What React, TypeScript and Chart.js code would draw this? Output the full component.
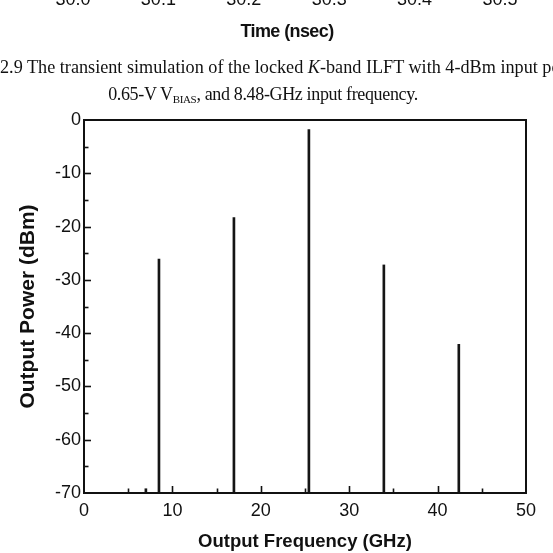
import React, { useEffect, useRef } from "react";
import { Chart, registerables } from "chart.js";

Chart.register(...registerables);

// Spectrum data
const frequenciesGHz = [7.0, 8.48, 16.96, 25.44, 33.92, 42.4];
const powersDBm = [-69.2, -26.1, -18.3, -1.8, -27.2, -42.1];
const floorDBm = -70;

// Axes
const xMin = 0;
const xMax = 50;
const xStep = 10;
const yMin = -70;
const yMax = 0;
const yStep = 10;

// Text of the page around the figure
const topTickLabels = ["30.0", "30.1", "30.2", "30.3", "30.4", "30.5"];
const topAxisTitle = "Time (nsec)";
const xTitle = "Output Frequency (GHz)";
const yTitle = "Output Power (dBm)";

const framePlugin = {
  id: "frameTicks",
  afterDatasetsDraw(chart: any) {
    const { ctx, chartArea: a, scales } = chart;
    const xs = scales.x;
    const ys = scales.y;
    ctx.save();
    ctx.strokeStyle = "#111";
    ctx.lineWidth = 1.6;
    for (let v = xMin + xStep / 2; v < xMax; v += xStep / 2) {
      const px = Math.round(xs.getPixelForValue(v)) + 0.5;
      const len = Math.abs(v % xStep) < 1e-6 ? 7 : 4.5;
      ctx.beginPath();
      ctx.moveTo(px, a.bottom);
      ctx.lineTo(px, a.bottom - len);
      ctx.stroke();
    }
    for (let v = yMin + yStep / 2; v < yMax; v += yStep / 2) {
      const py = Math.round(ys.getPixelForValue(v)) + 0.5;
      const len = Math.abs(v % yStep) < 1e-6 ? 7 : 4.5;
      ctx.beginPath();
      ctx.moveTo(a.left, py);
      ctx.lineTo(a.left + len, py);
      ctx.stroke();
    }
    ctx.lineWidth = 2;
    ctx.strokeRect(a.left, a.top, a.right - a.left, a.bottom - a.top);
    ctx.restore();
  },
};

export default function App() {
  const canvasRef = useRef<HTMLCanvasElement | null>(null);

  useEffect(() => {
    const canvas = canvasRef.current;
    if (!canvas) return;
    const data = frequenciesGHz.map((f, i) => ({ x: f, y: [floorDBm, powersDBm[i]] }));
    const chart = new Chart(canvas, {
      type: "bar",
      data: {
        datasets: [
          {
            data: data as any,
            backgroundColor: "#151515",
            borderWidth: 0,
            barThickness: 2,
          },
        ],
      },
      options: {
        responsive: false,
        animation: false,
        devicePixelRatio: 1,
        layout: { padding: { top: 120, right: 27, left: 0, bottom: 0 } },
        plugins: { legend: { display: false }, tooltip: { enabled: false } },
        scales: {
          x: {
            type: "linear",
            min: xMin,
            max: xMax,
            offset: false,
            grid: { display: false, drawTicks: false },
            border: { display: false },
            ticks: {
              stepSize: xStep,
              padding: 7,
              color: "#111",
              font: { family: "'Liberation Sans', Arial, sans-serif", size: 18 },
              maxRotation: 0,
            },
            title: {
              display: true,
              text: xTitle,
              color: "#111",
              padding: { top: 0, bottom: 0 },
              font: { family: "'Liberation Sans', Arial, sans-serif", size: 18.5, weight: "bold" },
            },
            afterFit(scale: any) {
              scale.height = 60;
            },
          },
          y: {
            type: "linear",
            min: yMin,
            max: yMax,
            grid: { display: false, drawTicks: false },
            border: { display: false },
            ticks: {
              stepSize: yStep,
              padding: 3,
              color: "#111",
              font: { family: "'Liberation Sans', Arial, sans-serif", size: 18 },
            },
            title: {
              display: true,
              text: yTitle,
              color: "#111",
              padding: { top: 16, bottom: 0 },
              font: { family: "'Liberation Sans', Arial, sans-serif", size: 21, weight: "bold" },
            },
            afterFit(scale: any) {
              scale.width = 84;
            },
          },
        },
      },
      plugins: [framePlugin],
    });
    return () => chart.destroy();
  }, []);

  const sans = "'Liberation Sans', Arial, sans-serif";
  const serif = "'Liberation Serif', 'Times New Roman', serif";

  return (
    <div
      style={{
        position: "fixed",
        left: 0,
        top: 0,
        width: 553,
        height: 553,
        overflow: "hidden",
        background: "#fff",
      }}
    >
      <canvas ref={canvasRef} width={553} height={553} style={{ display: "block" }} />
      {topTickLabels.map((t, i) => (
        <div
          key={t}
          style={{
            position: "absolute",
            top: -10,
            left: 73 + i * 85.4 - 40,
            width: 80,
            textAlign: "center",
            fontFamily: sans,
            fontSize: 18,
            lineHeight: "18px",
            color: "#111",
          }}
        >
          {t}
        </div>
      ))}
      <div
        style={{
          position: "absolute",
          top: 22,
          left: 187,
          width: 200,
          textAlign: "center",
          fontFamily: sans,
          fontWeight: "bold",
          fontSize: 18,
          lineHeight: "18px",
          letterSpacing: "-0.6px",
          color: "#111",
        }}
      >
        {topAxisTitle}
      </div>
      <div
        style={{
          position: "absolute",
          top: 58,
          left: 0,
          whiteSpace: "nowrap",
          fontFamily: serif,
          fontSize: 18.2,
          lineHeight: "18px",
          color: "#111",
        }}
      >
        2.9 The transient simulation of the locked <i>K</i>-band ILFT with 4-dBm input power,
      </div>
      <div
        style={{
          position: "absolute",
          top: 85,
          left: 63,
          width: 400,
          textAlign: "center",
          whiteSpace: "nowrap",
          fontFamily: serif,
          fontSize: 18,
          lineHeight: "18px",
          letterSpacing: "-0.35px",
          color: "#111",
        }}
      >
        0.65-V V<sub style={{ fontSize: 11, verticalAlign: "-3px", lineHeight: 0 }}>BIAS</sub>, and 8.48-GHz input frequency.
      </div>
    </div>
  );
}
